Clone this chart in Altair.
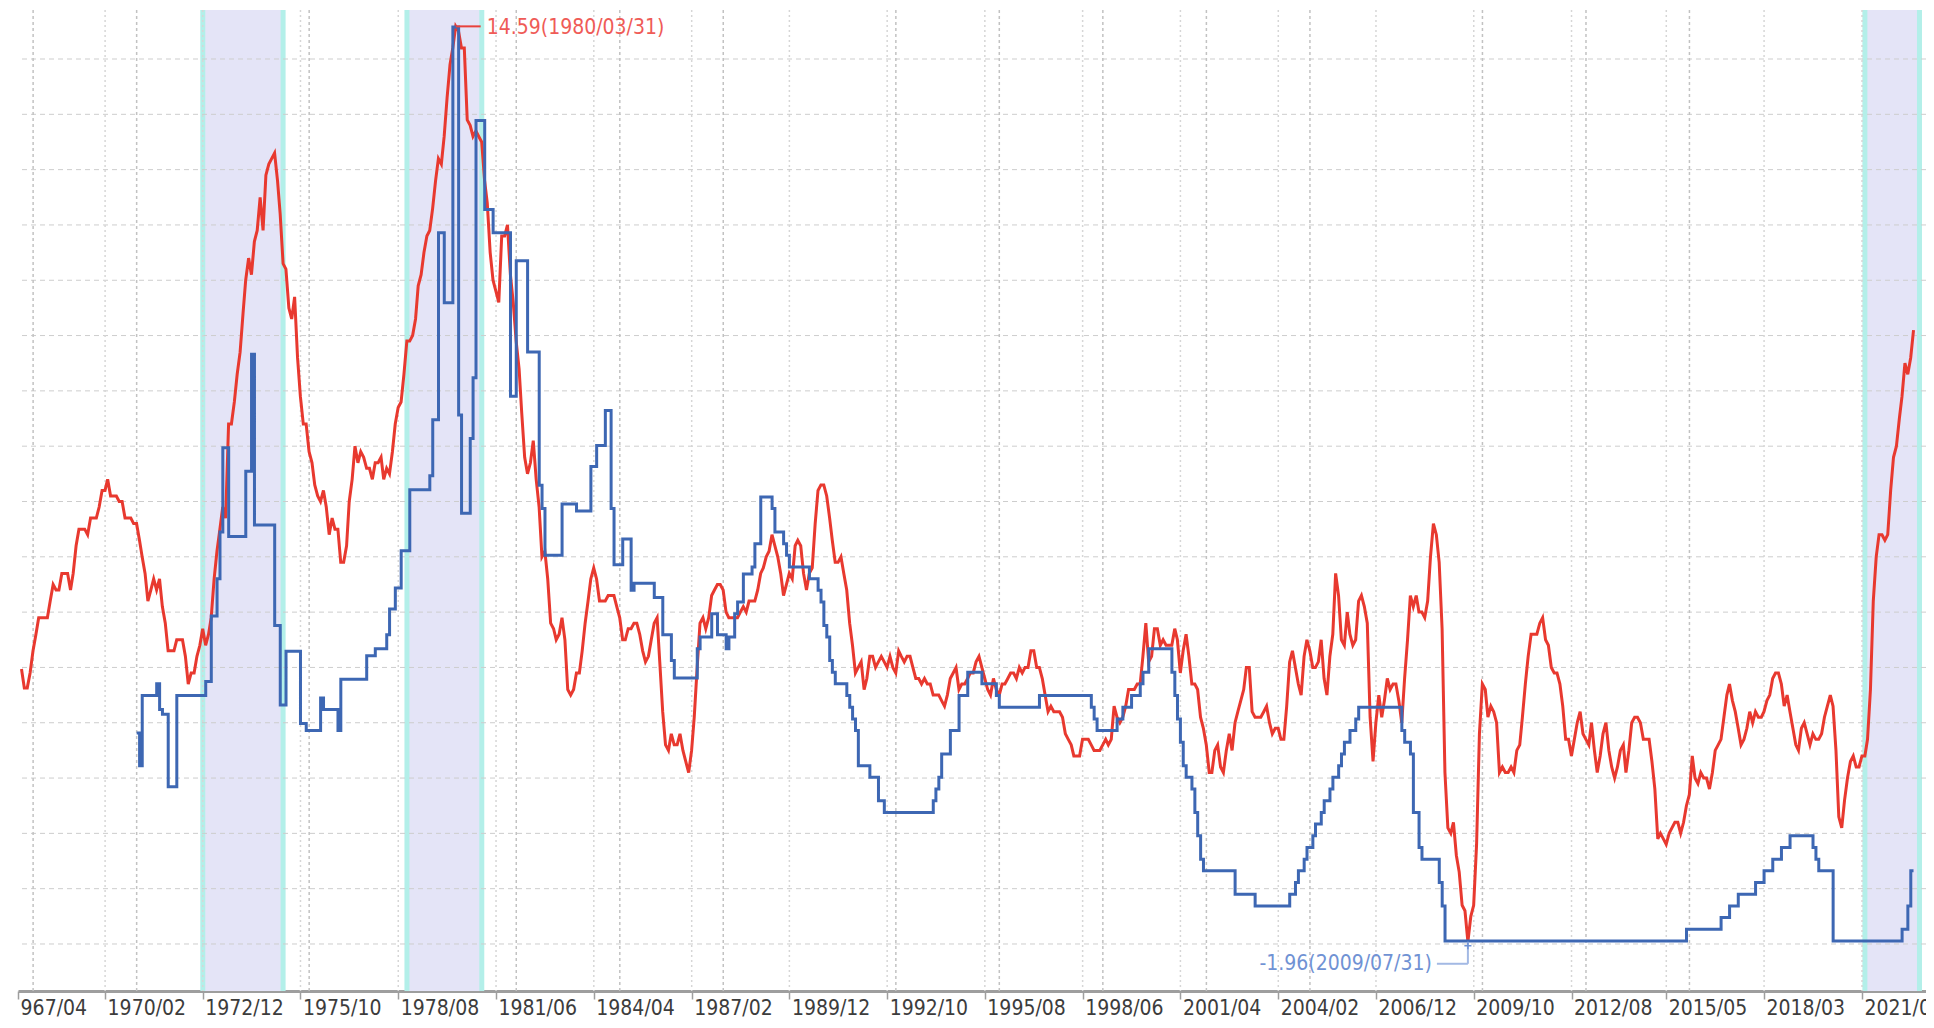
import calendar
import altair as alt
import pandas as pd

# ---------------- data ----------------
# red series: monthly year-over-year values, first month 1967/08
cpi_start = (1967, 8)
cpi_yoy = [
    2.97, 2.63, 2.63, 2.9, 3.3,
    3.6, 3.9, 3.9, 3.9, 3.9, 4.2, 4.5, 4.4, 4.4, 4.7, 4.7, 4.7,
    4.4, 4.7, 5.2, 5.5, 5.5, 5.5, 5.4, 5.7, 5.7, 5.7, 5.9, 6.2,
    6.2, 6.4, 6.1, 6.1, 6.1, 6.0, 6.0, 5.7, 5.7, 5.7, 5.6, 5.6,
    5.3, 5.0, 4.7, 4.2, 4.4, 4.6, 4.4, 4.6, 4.1, 3.8, 3.3, 3.3,
    3.3, 3.5, 3.5, 3.5, 3.2, 2.7, 2.9, 2.9, 3.2, 3.4, 3.7, 3.4,
    3.6, 3.9, 4.6, 5.1, 5.5, 5.9, 5.7, 7.4, 7.4, 7.8, 8.3, 8.7,
    9.4, 10.0, 10.4, 10.1, 10.7, 10.9, 11.5, 10.9, 11.9, 12.1, 12.2, 12.3,
    11.8, 11.2, 10.3, 10.2, 9.5, 9.3, 9.7, 8.6, 7.9, 7.4, 7.4, 6.9,
    6.7, 6.3, 6.1, 6.0, 6.2, 5.9, 5.4, 5.7, 5.5, 5.5, 4.9, 4.9,
    5.2, 6.0, 6.4, 7.0, 6.7, 6.9, 6.8, 6.6, 6.6, 6.4, 6.7, 6.7,
    6.8, 6.4, 6.6, 6.5, 6.9, 7.4, 7.7, 7.8, 8.3, 8.9, 8.9, 9.0,
    9.3, 9.9, 10.1, 10.5, 10.8, 10.9, 11.3, 11.8, 12.2, 12.1, 12.6, 13.3,
    13.9, 14.2, 14.59, 14.5, 14.2, 14.2, 12.9, 12.8, 12.6, 12.7, 12.6, 12.5,
    11.8, 11.4, 10.5, 10.0, 9.8, 9.6, 10.8, 10.8, 11.0, 10.1, 9.6, 8.9,
    8.4, 7.6, 6.8, 6.5, 6.7, 7.1, 6.4, 5.9, 5.0, 5.1, 4.6, 3.8,
    3.7, 3.5, 3.6, 3.9, 3.5, 2.6, 2.5, 2.6, 2.9, 2.9, 3.3, 3.8,
    4.2, 4.6, 4.8, 4.6, 4.2, 4.2, 4.2, 4.3, 4.3, 4.3, 4.1, 3.9,
    3.5, 3.5, 3.7, 3.7, 3.8, 3.8, 3.6, 3.3, 3.1, 3.2, 3.5, 3.8,
    3.9, 3.1, 2.2, 1.6, 1.5, 1.8, 1.6, 1.6, 1.8, 1.5, 1.3, 1.1,
    1.5, 2.1, 3.0, 3.8, 3.9, 3.7, 3.9, 4.3, 4.4, 4.5, 4.5, 4.4,
    4.0, 3.9, 3.9, 3.9, 3.9, 4.0, 4.1, 4.0, 4.2, 4.2, 4.2, 4.4,
    4.7, 4.8, 5.0, 5.1, 5.4, 5.2, 5.0, 4.7, 4.3, 4.5, 4.7, 4.6,
    5.2, 5.3, 5.2, 4.7, 4.4, 4.7, 4.8, 5.6, 6.2, 6.3, 6.3, 6.1,
    5.7, 5.3, 4.9, 4.9, 5.0, 4.7, 4.4, 3.8, 3.4, 2.9, 3.0, 3.1,
    2.6, 2.8, 3.2, 3.2, 3.0, 3.1, 3.2, 3.1, 3.0, 3.2, 3.0, 2.9,
    3.3, 3.2, 3.1, 3.2, 3.2, 3.0, 2.8, 2.8, 2.7, 2.8, 2.7, 2.7,
    2.5, 2.5, 2.5, 2.4, 2.3, 2.5, 2.8, 2.9, 3.0, 2.6, 2.7, 2.7,
    2.8, 2.9, 2.9, 3.1, 3.2, 3.0, 2.8, 2.6, 2.5, 2.8, 2.6, 2.5,
    2.7, 2.7, 2.8, 2.9, 2.9, 2.8, 3.0, 2.9, 3.0, 3.0, 3.3, 3.3,
    3.0, 3.0, 2.8, 2.5, 2.2, 2.3, 2.2, 2.2, 2.2, 2.1, 1.8, 1.7,
    1.6, 1.4, 1.4, 1.4, 1.7, 1.7, 1.7, 1.6, 1.5, 1.5, 1.5, 1.6,
    1.7, 1.6, 1.7, 2.3, 2.1, 2.0, 2.1, 2.3, 2.6, 2.6, 2.6, 2.7,
    2.7, 3.2, 3.8, 3.1, 3.2, 3.7, 3.7, 3.4, 3.5, 3.4, 3.4, 3.4,
    3.7, 3.5, 2.9, 3.3, 3.6, 3.2, 2.7, 2.7, 2.6, 2.1, 1.9, 1.6,
    1.1, 1.1, 1.5, 1.6, 1.2, 1.1, 1.5, 1.8, 1.5, 2.0, 2.2, 2.4,
    2.6, 3.0, 3.0, 2.2, 2.1, 2.1, 2.1, 2.2, 2.3, 2.0, 1.8, 1.9,
    1.9, 1.7, 1.7, 2.3, 3.1, 3.3, 3.0, 2.7, 2.5, 3.2, 3.5, 3.3,
    3.0, 3.0, 3.1, 3.5, 2.8, 2.5, 3.2, 3.6, 4.7, 4.3, 3.5, 3.4,
    4.0, 3.6, 3.4, 3.5, 4.2, 4.3, 4.1, 3.8, 2.1, 1.3, 2.0, 2.5,
    2.1, 2.4, 2.8, 2.6, 2.7, 2.7, 2.4, 2.0, 2.8, 3.5, 4.3, 4.1,
    4.3, 4.0, 4.0, 3.9, 4.2, 5.0, 5.6, 5.4, 4.9, 3.7, 1.1, 0.1,
    0.0, 0.2, -0.4, -0.7, -1.3, -1.4, -1.96, -1.5, -1.3, -0.2, 1.8, 2.7,
    2.6, 2.1, 2.3, 2.2, 2.0, 1.1, 1.2, 1.1, 1.1, 1.2, 1.1, 1.5,
    1.6, 2.1, 2.7, 3.2, 3.6, 3.6, 3.6, 3.8, 3.9, 3.5, 3.4, 3.0,
    2.9, 2.9, 2.7, 2.3, 1.7, 1.7, 1.4, 1.7, 2.0, 2.2, 1.8, 1.7,
    1.6, 2.0, 1.5, 1.1, 1.4, 1.8, 2.0, 1.5, 1.2, 1.0, 1.2, 1.5,
    1.6, 1.1, 1.5, 2.0, 2.1, 2.1, 2.0, 1.7, 1.7, 1.7, 1.3, 0.8,
    -0.1, 0.0, -0.1, -0.2, 0.0, 0.1, 0.2, 0.2, 0.0, 0.2, 0.5, 0.7,
    1.4, 1.0, 0.9, 1.1, 1.0, 1.0, 0.8, 1.1, 1.5, 1.6, 1.7, 2.1,
    2.5, 2.7, 2.4, 2.2, 1.9, 1.6, 1.7, 1.9, 2.2, 2.0, 2.2, 2.1,
    2.1, 2.2, 2.4, 2.5, 2.8, 2.9, 2.9, 2.7, 2.3, 2.5, 2.2, 1.9,
    1.6, 1.5, 1.9, 2.0, 1.8, 1.6, 1.8, 1.7, 1.7, 1.8, 2.1, 2.3,
    2.5, 2.3, 1.5, 0.3, 0.1, 0.6, 1.0, 1.3, 1.4, 1.2, 1.2, 1.4,
    1.4, 1.7, 2.6, 4.2, 5.0, 5.4, 5.4, 5.3, 5.4, 6.2, 6.8, 7.0,
    7.5, 7.9, 8.5, 8.3, 8.6, 9.1,
]

# blue series: policy-rate step changes (month of change, new level)
rate_steps = [
    ("1971-01", 4.7), ("1971-02", 4.0), ("1971-03", 5.5), ("1971-08", 5.75),
    ("1971-09", 5.2), ("1971-10", 5.1), ("1971-12", 3.55), ("1972-03", 5.5),
    ("1973-01", 5.8), ("1973-03", 7.2), ("1973-05", 8.0), ("1973-06", 9.0),
    ("1973-07", 10.8), ("1973-09", 8.9), ("1974-03", 10.3), ("1974-05", 12.8),
    ("1974-06", 9.15), ("1975-01", 7.0), ("1975-03", 5.3), ("1975-05", 6.45),
    ("1975-10", 4.9), ("1975-12", 4.75), ("1976-05", 5.45), ("1976-06", 5.2),
    ("1976-11", 4.75), ("1976-12", 5.85), ("1977-09", 6.35), ("1977-12", 6.5),
    ("1978-04", 6.8), ("1978-05", 7.35), ("1978-07", 7.8), ("1978-09", 8.6),
    ("1978-12", 9.9), ("1979-07", 10.2), ("1979-08", 11.4), ("1979-10", 15.4),
    ("1979-12", 13.9), ("1980-03", 19.8), ("1980-05", 11.5), ("1980-06", 9.4),
    ("1980-09", 11.0), ("1980-10", 12.3), ("1980-11", 17.8), ("1981-02", 15.9),
    ("1981-05", 15.4), ("1981-11", 11.9), ("1982-01", 14.8), ("1982-05", 12.85),
    ("1982-09", 10.0), ("1982-10", 9.5), ("1982-11", 8.5),
    ("1983-05", 9.6), ("1983-10", 9.45), ("1984-03", 10.4), ("1984-05", 10.85),
    ("1984-08", 11.6), ("1984-10", 9.5), ("1984-11", 8.3), ("1985-02", 8.85),
    ("1985-05", 7.75), ("1985-06", 7.9), ("1986-01", 7.6), ("1986-04", 6.8),
    ("1986-07", 6.25), ("1986-08", 5.875), ("1987-04", 6.5), ("1987-05", 6.75),
    ("1987-09", 7.25), ("1987-11", 6.8), ("1988-02", 6.5), ("1988-03", 6.75),
    ("1988-05", 7.25), ("1988-06", 7.5), ("1988-08", 8.1), ("1988-11", 8.25),
    ("1988-12", 8.75), ("1989-02", 9.75), ("1989-06", 9.5), ("1989-07", 9.0),
    ("1989-10", 8.75), ("1989-11", 8.5), ("1989-12", 8.25), ("1990-07", 8.0),
    ("1990-10", 7.75), ("1990-11", 7.5), ("1990-12", 7.0), ("1991-01", 6.75),
    ("1991-02", 6.25), ("1991-03", 6.0), ("1991-04", 5.75), ("1991-08", 5.5),
    ("1991-09", 5.25), ("1991-10", 5.0), ("1991-11", 4.75), ("1991-12", 4.0),
    ("1992-04", 3.75), ("1992-07", 3.25), ("1992-09", 3.0), ("1994-02", 3.25),
    ("1994-03", 3.5), ("1994-04", 3.75), ("1994-05", 4.25), ("1994-08", 4.75),
    ("1994-11", 5.5), ("1995-02", 6.0), ("1995-07", 5.75), ("1995-12", 5.5),
    ("1996-01", 5.25), ("1997-03", 5.5), ("1998-09", 5.25), ("1998-10", 5.0),
    ("1998-11", 4.75), ("1999-06", 5.0), ("1999-08", 5.25), ("1999-11", 5.5),
    ("2000-02", 5.75), ("2000-03", 6.0), ("2000-05", 6.5), ("2001-01", 6.0),
    ("2001-02", 5.5), ("2001-03", 5.0), ("2001-04", 4.5), ("2001-05", 4.0),
    ("2001-06", 3.75), ("2001-08", 3.5), ("2001-09", 3.0), ("2001-10", 2.5),
    ("2001-11", 2.0), ("2001-12", 1.75), ("2002-11", 1.25), ("2003-06", 1.0),
    ("2004-06", 1.25), ("2004-08", 1.5), ("2004-09", 1.75), ("2004-11", 2.0),
    ("2004-12", 2.25), ("2005-02", 2.5), ("2005-03", 2.75), ("2005-05", 3.0),
    ("2005-06", 3.25), ("2005-08", 3.5), ("2005-09", 3.75), ("2005-11", 4.0),
    ("2005-12", 4.25), ("2006-01", 4.5), ("2006-03", 4.75), ("2006-05", 5.0),
    ("2006-06", 5.25), ("2007-09", 4.75), ("2007-10", 4.5), ("2007-12", 4.25),
    ("2008-01", 3.0), ("2008-03", 2.25), ("2008-04", 2.0), ("2008-10", 1.5),
    ("2008-11", 1.0), ("2008-12", 0.25), ("2015-12", 0.5), ("2016-12", 0.75),
    ("2017-03", 1.0), ("2017-06", 1.25), ("2017-12", 1.5), ("2018-03", 1.75),
    ("2018-06", 2.0), ("2018-09", 2.25), ("2018-12", 2.5), ("2019-08", 2.25),
    ("2019-09", 2.0), ("2019-10", 1.75), ("2020-03", 0.25), ("2022-03", 0.5),
    ("2022-05", 1.0), ("2022-06", 1.75), ("2022-06-30", 1.75),
]

# x-axis tick labels
tick_labels = ["1970/02", "1972/12", "1975/10", "1978/08", "1981/06", "1984/04",
               "1987/02", "1989/12", "1992/10", "1995/08", "1998/06", "2001/04",
               "2004/02", "2006/12", "2009/10", "2012/08", "2015/05", "2018/03",
               "2021/01"]
first_label_date = "1967-07-26"          # clipped first label "967/04"
extra_grid_dates = ["1968-01", "1971-01", "1976-01", "1982-01", "1985-01",
                    "1988-01", "1993-01", "1996-01", "1999-01", "2002-01",
                    "2005-01", "2010-01", "2013-01", "2016-01"]
grid_levels = list(range(-2, 15))

shade_starts = ["1972-12-01", "1978-11-01", "2021-01-31"]
shade_ends = ["1975-03-31", "1981-01-01", "2022-09-01"]

peak_note = ("1980-03-31", 14.59, "14.59(1980/03/31)")
trough_note = ("2009-07-31", -1.96, "-1.96(2009/07/31)")

x_domain = ("1967-07-25", "2022-11-09")
red_domain = [-2.85, 14.886]
blue_domain = [-0.82, 20.165]


# ---------------- helpers ----------------
def ms(s):
    s = s.replace("/", "-")
    parts = [int(p) for p in s.split("-")]
    if len(parts) == 2:
        parts.append(1)
    y, m, d = parts
    return calendar.timegm((y, m, d, 0, 0, 0)) * 1000


def month_end_ms(y, m):
    return calendar.timegm((y, m, calendar.monthrange(y, m)[1], 0, 0, 0)) * 1000


FONT = "Liberation Sans Narrow, Arial Narrow, DejaVu Sans Condensed, sans-serif"
RED = "#e8392f"
BLUE = "#3d67b3"
FS = 21

red_rows = []
y0, m0 = cpi_start
for i, v in enumerate(cpi_yoy):
    mm = m0 - 1 + i
    red_rows.append({"t": month_end_ms(y0 + mm // 12, mm % 12 + 1), "v": v})
red_df = pd.DataFrame(red_rows)

blue_df = pd.DataFrame([{"t": ms(d), "v": v} for d, v in rate_steps])

tick_values = [ms(first_label_date)] + [ms(t) for t in tick_labels]
tick_df = pd.DataFrame({"t": [ms(t) for t in tick_labels]})
extra_df = pd.DataFrame({"t": [ms(t) for t in extra_grid_dates]})
grid_df = pd.DataFrame({"v": grid_levels})
shade_df = pd.DataFrame({"t": [ms(s) for s in shade_starts],
                         "t2": [ms(e) for e in shade_ends]})
edge_df = pd.DataFrame({"t": [ms(s) for s in shade_starts + shade_ends]})
peak_df = pd.DataFrame([{"t": ms(peak_note[0]), "v": peak_note[1], "label": peak_note[2]}])
trough_df = pd.DataFrame([{"t": ms(trough_note[0]), "v": trough_note[1], "label": trough_note[2]}])

xs = alt.Scale(type="utc", domain=[ms(x_domain[0]), ms(x_domain[1])], nice=False)
ys_red = alt.Scale(domain=red_domain, nice=False, zero=False)
ys_blue = alt.Scale(domain=blue_domain, nice=False, zero=False)

x_axis = alt.Axis(
    values=tick_values,
    labelExpr="datum.value < 0 ? '967/04' : utcFormat(datum.value, '%Y/%m')",
    grid=False, domainColor="#9e9e9e", domainWidth=3,
    tickColor="#9e9e9e", tickSize=8, tickWidth=1.5,
    labelAlign="left", labelBaseline="alphabetic", labelPadding=15,
    labelOffset=2, labelFont=FONT, labelFontSize=FS, labelColor="#3c3c3c",
    labelOverlap=False, labelFlush=False, labelBound=False, title=None,
)


def X():
    return alt.X("t:T", scale=xs, axis=x_axis, title=None)


def Yr():
    return alt.Y("v:Q", scale=ys_red, axis=None, title=None)


shades = alt.Chart(shade_df).mark_rect(color="#e4e4f7").encode(
    x=X(), x2="t2:T", y=alt.value(0), y2=alt.value(981))
edges = alt.Chart(edge_df).mark_rule(color="#b3efe9", strokeWidth=5).encode(x=X())
hgrid = alt.Chart(grid_df).mark_rule(color="#cdcdcd", strokeWidth=1,
                                     strokeDash=[5, 4]).encode(y=Yr())
vgrid1 = alt.Chart(tick_df).mark_rule(color="#d6d6d6", strokeWidth=1.5,
                                      strokeDash=[2, 3]).encode(x=X())
vgrid2 = alt.Chart(extra_df).mark_rule(color="#c2c2c2", strokeWidth=1.5,
                                       strokeDash=[3, 3]).encode(x=X())

red_line = alt.Chart(red_df).mark_line(color=RED, strokeWidth=3).encode(
    x=X(), y=Yr())
blue_line = alt.Chart(blue_df).mark_line(color=BLUE, strokeWidth=3,
                                         interpolate="step-after").encode(
    x=X(), y=alt.Y("v:Q", scale=ys_blue, axis=None, title=None))

peak_rule = alt.Chart(peak_df).mark_rule(color="#e8413c", strokeWidth=2,
                                         x2Offset=25).encode(
    x=X(), x2="t:T", y=Yr())
peak_text = alt.Chart(peak_df).mark_text(
    align="left", baseline="middle", dx=31, dy=2, font=FONT, fontSize=FS,
    color="#ef5b57").encode(x=X(), y=Yr(), text="label:N")

trough_v = alt.Chart(trough_df).mark_rule(color="#a3b9e4", strokeWidth=2,
                                          y2Offset=22).encode(
    x=X(), y=Yr(), y2="v:Q")
trough_h = alt.Chart(trough_df).mark_rule(color="#a3b9e4", strokeWidth=2,
                                          yOffset=22, x2Offset=-31).encode(
    x=X(), x2="t:T", y=Yr())
trough_cross = alt.Chart(trough_df).mark_point(
    shape="M-1,0L1,0M0,-1L0,1", size=50, filled=False, strokeWidth=1.5,
    color="#7092d4", yOffset=4, opacity=1).encode(x=X(), y=Yr())
trough_text = alt.Chart(trough_df).mark_text(
    align="right", baseline="middle", dx=-36, dy=22, font=FONT, fontSize=FS,
    color="#7092d4").encode(x=X(), y=Yr(), text="label:N")

chart = alt.layer(
    shades, edges, hgrid, vgrid1, vgrid2, red_line, blue_line,
    peak_rule, peak_text, trough_v, trough_h, trough_cross, trough_text,
).resolve_scale(y="independent").properties(
    width=1908, height=981,
    autosize=alt.AutoSizeParams(type="none"),
    padding={"left": 10, "top": 2, "right": 0, "bottom": 28},
    background="white",
).configure_view(stroke=None)

chart.save("out.html", embed_options={"renderer": "svg", "actions": False})
